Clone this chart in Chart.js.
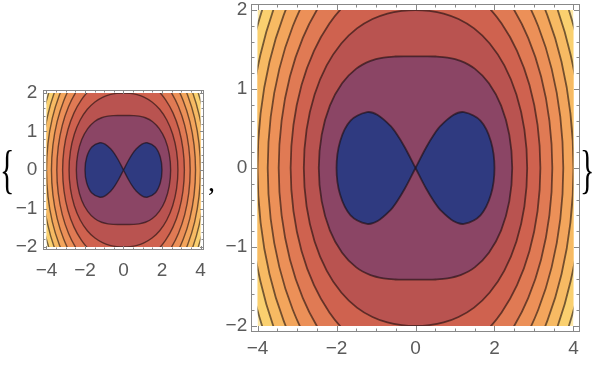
<!DOCTYPE html>
<html lang="en">
<head>
<meta charset="utf-8"/>
<title>Contour plots</title>
<script src="https://cdn.jsdelivr.net/npm/chart.js"></script>
<style>
  body {
    margin: 0;
    width: 597px;
    height: 365px;
    background: #fff;
    position: relative;
    overflow: hidden;
  }
  canvas {
    position: absolute;
  }
  .sym {
    position: absolute;
    font-family: "Liberation Serif", serif;
    line-height: 1;
    color: #000;
  }
</style>
</head>
<body>
<canvas id="small" width="215" height="240" style="left:0;top:60px"></canvas>
<canvas id="big" width="400" height="385" style="left:190px;top:-20px"></canvas>
<div class="sym" style="left:0;top:154px;font-size:30px;transform:scaleY(1.75)">{</div>
<div class="sym" style="left:208px;top:168px;font-size:28px">,</div>
<div class="sym" style="left:580px;top:154px;font-size:30px;transform:scaleY(1.75)">}</div>

<script>
  // plot range and tick labels
  const xRange = [-4, 4];
  const yRange = [-2, 2];
  const xTicks = [-4, -2, 0, 2, 4];
  const yTicks = [-2, -1, 0, 1, 2];

  // contour values, inner to outer (the blue lobes are the level 2 curve)
  const levels = [2, 4, 6, 8, 10, 12, 14, 16, 18];
  const bandColors = ['#2f3a80', '#8b4565', '#b95350', '#cf624f', '#e07a54',
                      '#ec9058', '#f3a55c', '#f7ba63', '#fad06f', '#fde7a6'];

  // level 2: figure-eight lobe, radius by angle (deg)
  const lemAngles = [0, 10, 20, 30, 35, 40, 42, 44, 45];
  const lemRadii = [2, 1.939, 1.750, 1.414, 1.170, 0.833, 0.647, 0.374, 0];

  // other levels: radius by angle, first quadrant (the plot is symmetric)
  const angles = [0, 10, 20, 30, 40, 50, 60, 70, 80, 90];
  const r4  = [2.449, 2.412, 2.307, 2.146, 1.957, 1.771, 1.614, 1.502, 1.436, 1.414];
  const r6  = [2.828, 2.800, 2.719, 2.597, 2.453, 2.307, 2.178, 2.081, 2.020, 2.000];
  const r8  = [3.162, 3.138, 3.071, 2.968, 2.846, 2.722, 2.610, 2.523, 2.468, 2.449];
  const r10 = [3.464, 3.443, 3.384, 3.294, 3.186, 3.075, 2.975, 2.896, 2.846, 2.828];
  const r12 = [3.742, 3.723, 3.669, 3.588, 3.491, 3.390, 3.298, 3.225, 3.178, 3.162];
  const r14 = [4.000, 3.983, 3.934, 3.859, 3.769, 3.676, 3.591, 3.523, 3.479, 3.464];
  const r16 = [4.243, 4.227, 4.181, 4.112, 4.028, 3.941, 3.861, 3.797, 3.756, 3.742];
  const r18 = [4.472, 4.457, 4.414, 4.349, 4.271, 4.189, 4.113, 4.052, 4.014, 4.000];
  const contourRadii = [r4, r6, r8, r10, r12, r14, r16, r18];

  const lineColor = 'rgba(20,10,10,0.58)';
  const frameColor = '#888';
  const labelColor = '#5a5a5a';
  const rad = Math.PI / 180;

  function minus(v) {
    return v < 0 ? '\u2212' + Math.abs(v) : String(v);
  }

  // one lobe of the figure eight, side = 1 right, -1 left
  function lobePoints(side) {
    const seq = lemAngles.slice().reverse().map(a => -a).concat(lemAngles.slice(1));
    return seq.map(a => {
      const r = lemRadii[lemAngles.indexOf(Math.abs(a))];
      return { x: side * r * Math.cos(a * rad), y: r * Math.sin(a * rad) };
    });
  }

  // full closed curve, with one extra point on each end so the curve is smooth at the seam
  function loopPoints(r) {
    const pts = [];
    for (let a = -10; a <= 370; a += 10) {
      let t = ((a % 360) + 360) % 360;
      if (t > 180) t = 360 - t;
      if (t > 90) t = 180 - t;
      const v = r[angles.indexOf(t)];
      pts.push({ x: v * Math.cos(a * rad), y: v * Math.sin(a * rad) });
    }
    return pts;
  }

  function makeDatasets(lineW) {
    const ds = [];
    [-1, 1].forEach(s => ds.push({ data: lobePoints(s), backgroundColor: bandColors[0] }));
    contourRadii.forEach((r, i) => {
      const pts = loopPoints(r);
      const last = pts.length - 2;
      ds.push({
        data: pts,
        backgroundColor: bandColors[i + 1],
        segment: {
          borderColor: c => (c.p0DataIndex === 0 || c.p0DataIndex === last) ? 'rgba(0,0,0,0)' : undefined
        }
      });
    });
    return ds.map(d => Object.assign(d, {
      showLine: true,
      fill: 'shape',
      borderColor: lineColor,
      borderWidth: lineW,
      pointRadius: 0,
      tension: 1 / 3
    }));
  }

  const framePlugin = {
    id: 'frame',
    beforeDatasetsDraw(chart) {
      const { ctx, scales: { x, y } } = chart;
      const l = x.getPixelForValue(xRange[0]), r = x.getPixelForValue(xRange[1]);
      const t = y.getPixelForValue(yRange[1]), b = y.getPixelForValue(yRange[0]);
      ctx.save();
      ctx.beginPath();
      ctx.rect(l, t, r - l, b - t);
      ctx.clip();
      ctx.fillStyle = bandColors[bandColors.length - 1];
      ctx.fillRect(l, t, r - l, b - t);
    },
    afterDatasetsDraw(chart) {
      chart.ctx.restore();
    },
    afterDraw(chart, args, opts) {
      const { ctx, chartArea: a, scales: { x, y } } = chart;
      const L = Math.round(a.left) + 0.5, R = Math.round(a.right) - 0.5;
      const T = Math.round(a.top) + 0.5, B = Math.round(a.bottom) - 0.5;
      ctx.save();
      ctx.strokeStyle = frameColor;
      ctx.lineWidth = 1;
      ctx.strokeRect(L, T, R - L, B - T);
      ctx.beginPath();
      for (let v = xRange[0]; v <= xRange[1] + 1e-9; v += 0.5) {
        const len = xTicks.includes(Math.round(v * 10) / 10) ? opts.major : opts.minor;
        const px = Math.round(x.getPixelForValue(v)) + 0.5;
        ctx.moveTo(px, B); ctx.lineTo(px, B - len);
        ctx.moveTo(px, T); ctx.lineTo(px, T + len);
      }
      for (let v = yRange[0]; v <= yRange[1] + 1e-9; v += 0.2) {
        const len = yTicks.includes(Math.round(v * 10) / 10) ? opts.major : opts.minor;
        const py = Math.round(y.getPixelForValue(v)) + 0.5;
        ctx.moveTo(L, py); ctx.lineTo(L + len, py);
        ctx.moveTo(R, py); ctx.lineTo(R - len, py);
      }
      ctx.stroke();
      ctx.restore();
    }
  };

  function makeChart(id, cfg) {
    const xPad = (xRange[1] - xRange[0]) * 0.02;
    const yPad = (yRange[1] - yRange[0]) * 0.02;
    const font = { family: '"Liberation Sans", Arial, sans-serif', size: cfg.fontSize };
    return new Chart(document.getElementById(id), {
      type: 'scatter',
      data: { datasets: makeDatasets(cfg.lineW) },
      options: {
        responsive: false,
        animation: false,
        events: [],
        layout: { padding: { left: 0, top: cfg.top, right: cfg.right, bottom: 0 } },
        elements: { line: { capBezierPoints: false } },
        plugins: {
          legend: { display: false },
          tooltip: { enabled: false },
          frame: { major: cfg.major, minor: cfg.minor }
        },
        scales: {
          x: {
            type: 'linear',
            min: xRange[0] - xPad,
            max: xRange[1] + xPad,
            grid: { display: false, drawTicks: false },
            border: { display: false },
            ticks: { font, color: labelColor, padding: cfg.xPadding, maxRotation: 0, autoSkip: false, callback: minus },
            afterBuildTicks: s => { s.ticks = xTicks.map(v => ({ value: v })); },
            afterFit: s => { s.height = cfg.xAxisH; }
          },
          y: {
            type: 'linear',
            min: yRange[0] - yPad,
            max: yRange[1] + yPad,
            grid: { display: false, drawTicks: false },
            border: { display: false },
            ticks: { font, color: labelColor, padding: cfg.yPadding, autoSkip: false, callback: minus },
            afterBuildTicks: s => { s.ticks = yTicks.map(v => ({ value: v })); },
            afterFit: s => { s.width = cfg.yAxisW; }
          }
        }
      },
      plugins: [framePlugin]
    });
  }

  makeChart('small', {
    top: 29.9, right: 10.9, yAxisW: 43.4, xAxisH: 49.9,
    fontSize: 19, xPadding: 9, yPadding: 6, lineW: 1.4, major: 3.5, minor: 2
  });
  makeChart('big', {
    top: 23.7, right: 10.2, yAxisW: 61.2, xAxisH: 32.7,
    fontSize: 19, xPadding: 5, yPadding: 4, lineW: 1.8, major: 5.5, minor: 3
  });
</script>
</body>
</html>
